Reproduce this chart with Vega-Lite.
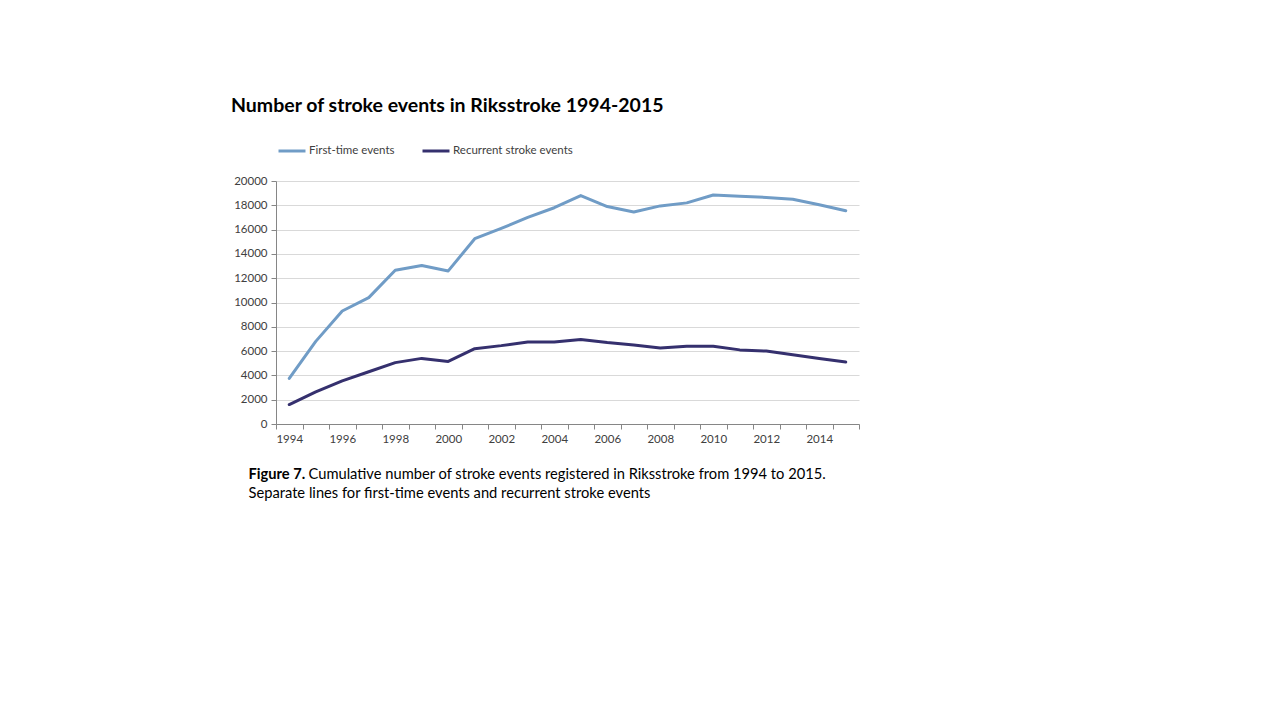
{
  "$schema": "https://vega.github.io/schema/vega-lite/v6.json",
  "width": 583,
  "height": 243,
  "autosize": {"type": "none"},
  "padding": {"left": 276, "top": 181, "right": 421, "bottom": 296},
  "background": "white",
  "title": {
    "text": "Number of stroke events in Riksstroke 1994-2015",
    "anchor": "start",
    "frame": "group",
    "dx": -45,
    "offset": 20,
    "font": "Lato",
    "fontSize": 19.5,
    "fontWeight": "bold",
    "color": "#000000"
  },
  "data": {
    "values": [
      {"year": 1994, "series": "First-time events", "events": 3750},
      {"year": 1995, "series": "First-time events", "events": 6800},
      {"year": 1996, "series": "First-time events", "events": 9300},
      {"year": 1997, "series": "First-time events", "events": 10400},
      {"year": 1998, "series": "First-time events", "events": 12650},
      {"year": 1999, "series": "First-time events", "events": 13050},
      {"year": 2000, "series": "First-time events", "events": 12600},
      {"year": 2001, "series": "First-time events", "events": 15250},
      {"year": 2002, "series": "First-time events", "events": 16100},
      {"year": 2003, "series": "First-time events", "events": 17000},
      {"year": 2004, "series": "First-time events", "events": 17800},
      {"year": 2005, "series": "First-time events", "events": 18800},
      {"year": 2006, "series": "First-time events", "events": 17900},
      {"year": 2007, "series": "First-time events", "events": 17450},
      {"year": 2008, "series": "First-time events", "events": 17950},
      {"year": 2009, "series": "First-time events", "events": 18200},
      {"year": 2010, "series": "First-time events", "events": 18850},
      {"year": 2011, "series": "First-time events", "events": 18750},
      {"year": 2012, "series": "First-time events", "events": 18650},
      {"year": 2013, "series": "First-time events", "events": 18500},
      {"year": 2014, "series": "First-time events", "events": 18050},
      {"year": 2015, "series": "First-time events", "events": 17550},
      {"year": 1994, "series": "Recurrent stroke events", "events": 1600},
      {"year": 1995, "series": "Recurrent stroke events", "events": 2650},
      {"year": 1996, "series": "Recurrent stroke events", "events": 3550},
      {"year": 1997, "series": "Recurrent stroke events", "events": 4300},
      {"year": 1998, "series": "Recurrent stroke events", "events": 5050},
      {"year": 1999, "series": "Recurrent stroke events", "events": 5400},
      {"year": 2000, "series": "Recurrent stroke events", "events": 5150},
      {"year": 2001, "series": "Recurrent stroke events", "events": 6200},
      {"year": 2002, "series": "Recurrent stroke events", "events": 6450},
      {"year": 2003, "series": "Recurrent stroke events", "events": 6750},
      {"year": 2004, "series": "Recurrent stroke events", "events": 6750},
      {"year": 2005, "series": "Recurrent stroke events", "events": 6950},
      {"year": 2006, "series": "Recurrent stroke events", "events": 6700},
      {"year": 2007, "series": "Recurrent stroke events", "events": 6500},
      {"year": 2008, "series": "Recurrent stroke events", "events": 6250},
      {"year": 2009, "series": "Recurrent stroke events", "events": 6400},
      {"year": 2010, "series": "Recurrent stroke events", "events": 6400},
      {"year": 2011, "series": "Recurrent stroke events", "events": 6100},
      {"year": 2012, "series": "Recurrent stroke events", "events": 6000},
      {"year": 2013, "series": "Recurrent stroke events", "events": 5700},
      {"year": 2014, "series": "Recurrent stroke events", "events": 5400},
      {"year": 2015, "series": "Recurrent stroke events", "events": 5100}
    ]
  },
  "encoding": {
    "y": {
      "field": "events",
      "type": "quantitative",
      "scale": {"domain": [0, 20000], "nice": false},
      "axis": {
        "title": null,
        "values": [0, 2000, 4000, 6000, 8000, 10000, 12000, 14000, 16000, 18000, 20000],
        "format": "d",
        "labelFont": "Lato",
        "labelFontSize": 11.5,
        "labelColor": "#404040",
        "labelPadding": 4,
        "tickSize": 5,
        "tickColor": "#868686",
        "domainColor": "#868686",
        "grid": true,
        "gridColor": "#d9d9d9",
        "gridWidth": 1
      }
    },
    "color": {
      "field": "series",
      "type": "nominal",
      "scale": {
        "domain": ["First-time events", "Recurrent stroke events"],
        "range": ["#709cc6", "#35306e"]
      },
      "legend": {
        "title": null,
        "orient": "none",
        "direction": "horizontal",
        "legendX": 1,
        "legendY": -45,
        "symbolType": "stroke",
        "symbolSize": 729,
        "symbolStrokeWidth": 3,
        "symbolOffset": 0,
        "labelFont": "Lato",
        "labelFontSize": 11.5,
        "labelColor": "#404040",
        "labelOffset": 2,
        "columnPadding": 21
      }
    }
  },
  "layer": [
    {
      "mark": {"type": "line", "strokeWidth": 3, "strokeJoin": "round", "strokeCap": "round"},
      "encoding": {
        "x": {
          "field": "year",
          "type": "ordinal",
          "scale": {"type": "band", "paddingInner": 0, "paddingOuter": 0},
          "axis": {
            "orient": "bottom",
            "title": "Cumulative number of stroke events registered in Riksstroke from 1994 to 2015.",
            "titleFont": "Lato",
            "titleFontSize": 14.7,
            "titleFontWeight": "normal",
            "titleColor": "#000000",
            "titleAnchor": "start",
            "titleAlign": "left",
            "titleBaseline": "top",
            "titleX": 32,
            "titleY": 42,
            "labelAngle": 0,
            "labelExpr": "datum.value % 2 == 0 ? datum.label : ''",
            "labelFont": "Lato",
            "labelFontSize": 11.5,
            "labelColor": "#404040",
            "labelPadding": 4,
            "tickBand": "extent",
            "tickSize": 5,
            "tickColor": "#868686",
            "domainColor": "#868686",
            "grid": false
          }
        }
      }
    },
    {
      "mark": {"type": "line", "opacity": 0},
      "encoding": {
        "x": {
          "field": "year",
          "type": "ordinal",
          "axis": {
            "orient": "bottom",
            "title": "Figure 7.",
            "titleFont": "Lato",
            "titleFontSize": 14.7,
            "titleFontWeight": "bold",
            "titleColor": "#000000",
            "titleAnchor": "start",
            "titleAlign": "left",
            "titleBaseline": "top",
            "titleX": -28,
            "titleY": 42,
            "labels": false,
            "ticks": false,
            "domain": false,
            "grid": false
          }
        }
      }
    },
    {
      "mark": {"type": "line", "opacity": 0},
      "encoding": {
        "x": {
          "field": "year",
          "type": "ordinal",
          "axis": {
            "orient": "bottom",
            "title": "Separate lines for first-time events and recurrent stroke events",
            "titleFont": "Lato",
            "titleFontSize": 14.7,
            "titleFontWeight": "normal",
            "titleColor": "#000000",
            "titleAnchor": "start",
            "titleAlign": "left",
            "titleBaseline": "top",
            "titleX": -28,
            "titleY": 61,
            "labels": false,
            "ticks": false,
            "domain": false,
            "grid": false
          }
        }
      }
    }
  ],
  "resolve": {"scale": {"x": "shared"}, "axis": {"x": "independent"}},
  "config": {
    "view": {"stroke": null}
  }
}
